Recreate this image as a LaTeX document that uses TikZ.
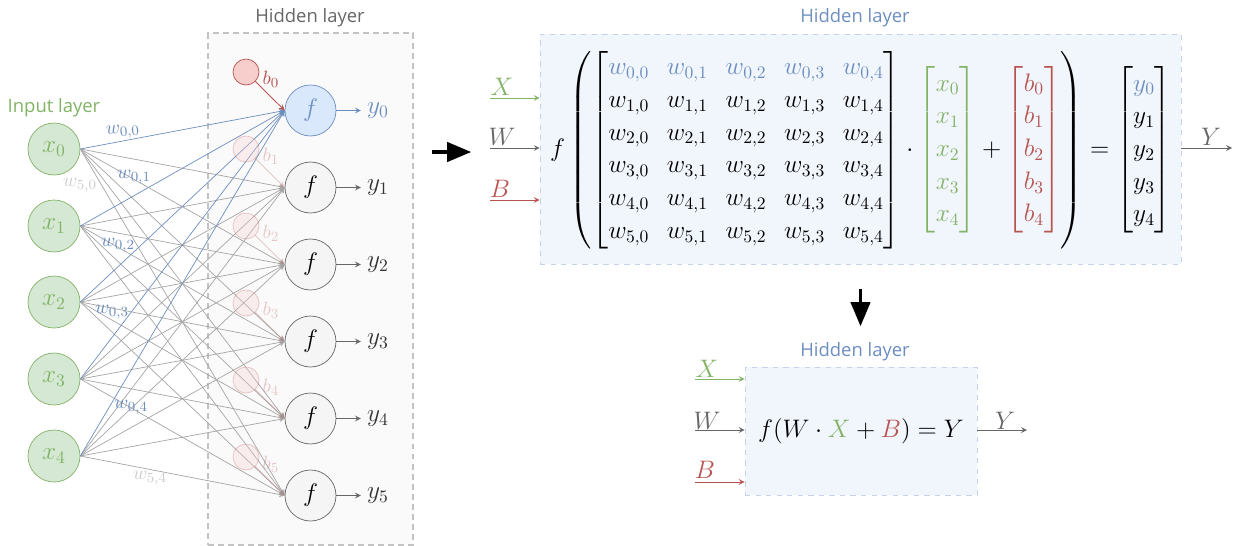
\documentclass[tikz,border=0pt]{standalone}
\usepackage{amsmath}
\usepackage{fontspec}
\setsansfont{Open Sans}
\usepackage{tikz}
\usetikzlibrary{arrows,positioning}
\usepackage{xcolor}
\definecolor{nnblue}{RGB}{108,142,191}
\definecolor{nngreen}{RGB}{130,179,102}
\definecolor{nnred}{RGB}{184,84,80}
\definecolor{nngray}{RGB}{102,102,102}
\definecolor{lightblue}{RGB}{218,232,252}
\definecolor{lightgreen}{RGB}{213,232,212}
\definecolor{lightred}{RGB}{248,206,204}
\definecolor{lightgray}{RGB}{245,245,245}
\definecolor{boxgray}{RGB}{250,250,250}
\definecolor{boxblue}{RGB}{241,245,252}
\definecolor{dashblue}{RGB}{196,210,234}
\definecolor{dashgray}{RGB}{195,195,195}
\definecolor{edgegray}{RGB}{165,165,165}
\tikzstyle{input} = [circle, draw=nngreen, fill=lightgreen, text=nngreen, minimum size=1.04cm, inner sep=0pt]
\tikzstyle{hidden} = [circle, draw=nngray, fill=lightgray, minimum size=1.02cm, inner sep=0pt]
\tikzstyle{bias} = [circle, draw=nnred, fill=lightred, minimum size=0.52cm, inner sep=0pt]
\tikzstyle{edge} = [->,>=stealth,color=edgegray,line width=0.4pt]
\tikzstyle{weight} = [font=\fontsize{11}{13}\selectfont]
\tikzstyle{title} = [font=\sffamily\fontsize{10.5}{12}\selectfont]
\tikzstyle{arrow} = [->,>=stealth,line width=0.5pt]
\tikzstyle{bigarrow} = [line width=2.2pt,-triangle 45]

\begin{document}
\begin{tikzpicture}[x=0.02cm, y=-0.02cm, font=\fontsize{14}{17}\selectfont]
    \useasboundingbox (0,0) rectangle (1236,545);

    % Hidden layer box
    \node[draw=dashgray, fill=boxgray, line width=1.1pt, dash pattern=on 3.4pt off 2.3pt, minimum width=4.1cm, minimum height=10.24cm] (hiddenbox) at (310.5,289) {};
    \node[title, text=nngray] (hiddentitle) at (310,18) {Hidden layer};

    % Input layer
    \node[title, text=nngreen] (inputtitle) at (54,108) {Input layer};
    \foreach \i/\y in {0/149,1/226,2/302,3/379,4/456}
        \node[input] (in\i) at (54,\y) {$x_\i$};

    % Hidden neurons and outputs
    \node[hidden, draw=nnblue, fill=lightblue, text=nnblue] (h0) at (310.5,110.5) {$f$};
    \node[text=nnblue] (y0) at (378,110.5) {$y_0$};
    \foreach \j/\y in {1/187.5,2/264.5,3/341.5,4/418.5,5/495.5} {
        \node[hidden] (h\j) at (310.5,\y) {$f$};
        \node[text=black!80] (y\j) at (378,\y) {$y_\j$};
    }
    \draw[arrow, nnblue] (h0) -- (y0);
    \foreach \j in {1,...,5}
        \draw[arrow, nngray] (h\j) -- (y\j);

    % Weights
    \foreach \i in {0,...,4}
        \foreach \j in {1,...,5}
            \draw[edge] (in\i.east) -- (h\j.west);
    \foreach \i in {0,...,4}
        \draw[edge, color=nnblue] (in\i.east) -- (h0.west);
    \node[weight, text=nnblue, rotate=5] (w00) at (123,132) {$w_{0,0}$};
    \node[weight, text=nnblue] (w01) at (134,177) {$w_{0,1}$};
    \node[weight, text=nnblue] (w02) at (118,245) {$w_{0,2}$};
    \node[weight, text=nnblue] (w03) at (112,312) {$w_{0,3}$};
    \node[weight, text=nnblue] (w04) at (131,407) {$w_{0,4}$};
    \node[weight, text=black!20] (w50) at (80,185) {$w_{5,0}$};
    \node[weight, text=black!20] (w54) at (150,478) {$w_{5,4}$};

    % Biases
    \node[bias] (b0) at (246,72) {};
    \draw[arrow, nnred] (b0) -- (h0.west);
    \node[weight, text=nnred] (b0lab) at (271,79) {$b_0$};
    \foreach \j/\y in {1/149,2/226,3/303,4/380,5/457} {
        \node[bias, opacity=0.3] (b\j) at (246,\y) {};
        \draw[arrow, nnred, opacity=0.3] (b\j) -- (h\j.west);
        \node[weight, text=nnred, opacity=0.3] (b\j lab) at (271,\y+7) {$b_\j$};
    }

    % Arrow to matrix form
    \coordinate (rightA) at (432,152);
    \coordinate (rightB) at (471,152);
    \draw[bigarrow] (rightA) -- (rightB);

    % Matrix form
    \node[draw=dashblue, fill=boxblue, dashed, minimum width=12.82cm, minimum height=4.6cm] (matbox) at (860.5,149) {};
    \node[title, text=nnblue] (mattitle) at (855,18) {Hidden layer};
    \node[font=\fontsize{14.5}{18.6}\selectfont] (eqn) at (861,150) {$f\left(\begin{bmatrix}
        \color{nnblue}w_{0,0} & \color{nnblue}w_{0,1} & \color{nnblue}w_{0,2} & \color{nnblue}w_{0,3} & \color{nnblue}w_{0,4}\\
        w_{1,0} & w_{1,1} & w_{1,2} & w_{1,3} & w_{1,4}\\
        w_{2,0} & w_{2,1} & w_{2,2} & w_{2,3} & w_{2,4}\\
        w_{3,0} & w_{3,1} & w_{3,2} & w_{3,3} & w_{3,4}\\
        w_{4,0} & w_{4,1} & w_{4,2} & w_{4,3} & w_{4,4}\\
        w_{5,0} & w_{5,1} & w_{5,2} & w_{5,3} & w_{5,4}
        \end{bmatrix}\cdot
        {\color{nngreen}\begin{bmatrix}x_0\\x_1\\x_2\\x_3\\x_4\end{bmatrix}}
        +{\color{nnred}\begin{bmatrix}b_0\\b_1\\b_2\\b_3\\b_4\end{bmatrix}}\right)
        =\begin{bmatrix}\color{nnblue}y_0\\y_1\\y_2\\y_3\\y_4\end{bmatrix}$};
    \coordinate (xin) at (490,98);
    \coordinate (win) at (490,148);
    \coordinate (bin) at (490,200);
    \coordinate (yout) at (1232,148);
    \draw[arrow, nngreen] (xin) -- (matbox.west |- xin);
    \draw[arrow, nngray] (win) -- (matbox.west |- win);
    \draw[arrow, nnred] (bin) -- (matbox.west |- bin);
    \draw[arrow, nngray] (matbox.east |- yout) -- (yout);
    \node[text=nngreen] (xlab) at (502,87) {$X$};
    \node[text=nngray] (wlab) at (502,137) {$W$};
    \node[text=nnred] (blab) at (500,189) {$B$};
    \node[text=nngray] (ylab) at (1211,137) {$Y$};

    % Arrow to compact form
    \coordinate (downA) at (860.5,289);
    \coordinate (downB) at (860.5,326);
    \draw[bigarrow] (downA) -- (downB);

    % Compact form
    \node[draw=dashblue, fill=boxblue, dashed, minimum width=4.64cm, minimum height=2.56cm, font=\fontsize{13.7}{16}\selectfont] (smallbox) at (861,431) {$f(W\cdot{\color{nngreen}X}+{\color{nnred}B})=Y$};
    \node[title, text=nnblue] (smalltitle) at (855,352) {Hidden layer};
    \coordinate (xin2) at (695,379);
    \coordinate (win2) at (695,430);
    \coordinate (bin2) at (695,482);
    \coordinate (yout2) at (1027,430);
    \draw[arrow, nngreen] (xin2) -- (smallbox.west |- xin2);
    \draw[arrow, nngray] (win2) -- (smallbox.west |- win2);
    \draw[arrow, nnred] (bin2) -- (smallbox.west |- bin2);
    \draw[arrow, nngray] (smallbox.east |- yout2) -- (yout2);
    \node[text=nngreen] (xlab2) at (707,369) {$X$};
    \node[text=nngray] (wlab2) at (707,421) {$W$};
    \node[text=nnred] (blab2) at (705,470) {$B$};
    \node[text=nngray] (ylab2) at (1005,421) {$Y$};
\end{tikzpicture}
\end{document}
